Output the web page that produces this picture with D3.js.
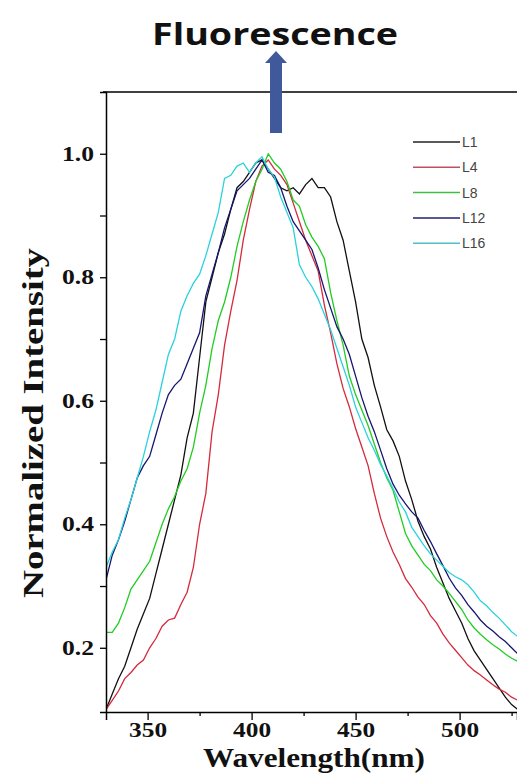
<!DOCTYPE html>
<meta charset="utf-8">
<style>
  body { margin: 0; background: #fff; }
  svg { display: block; }
</style>
<body>
<div id="chart"></div>
<script src="https://d3js.org/d3.v7.min.js"></script>
<script>

// wavelength grid (nm), 3 nm apart
var wavelengths = d3.range(330, 529, 3);

var seriesNames = ["L1", "L4", "L8", "L12", "L16"];
var seriesColors = ["#111111", "#d42a3c", "#22cc22", "#161670", "#2ad2dc"];
var legendColors = ["#222222", "#c05060", "#40c040", "#20206e", "#50c0c8"];

var L1 = [0.10, 0.125, 0.15, 0.17, 0.20, 0.23, 0.255, 0.28, 0.32, 0.36,
          0.40, 0.44, 0.48, 0.54, 0.58, 0.67, 0.76, 0.80, 0.84, 0.87,
          0.91, 0.945, 0.955, 0.97, 0.985, 0.99, 0.975, 0.96, 0.945, 0.94,
          0.945, 0.935, 0.95, 0.96, 0.945, 0.945, 0.93, 0.89, 0.86, 0.81,
          0.76, 0.70, 0.67, 0.625, 0.59, 0.553, 0.535, 0.51, 0.47, 0.44,
          0.405, 0.38, 0.36, 0.33, 0.305, 0.28, 0.26, 0.24, 0.215, 0.195,
          0.18, 0.165, 0.15, 0.135, 0.12, 0.108, 0.10];

var L4 = [0.10, 0.115, 0.13, 0.15, 0.16, 0.172, 0.18, 0.20, 0.215, 0.235,
          0.245, 0.248, 0.27, 0.29, 0.33, 0.40, 0.45, 0.55, 0.61, 0.69,
          0.745, 0.795, 0.86, 0.91, 0.955, 0.98, 0.99, 0.975, 0.965, 0.95,
          0.92, 0.89, 0.86, 0.835, 0.81, 0.755, 0.71, 0.66, 0.62, 0.59,
          0.555, 0.525, 0.495, 0.45, 0.41, 0.38, 0.355, 0.335, 0.312, 0.298,
          0.282, 0.27, 0.252, 0.24, 0.222, 0.208, 0.196, 0.184, 0.172, 0.163,
          0.156, 0.148, 0.14, 0.133, 0.128, 0.12, 0.115];

var L8 = [0.225, 0.225, 0.24, 0.265, 0.295, 0.31, 0.325, 0.34, 0.37, 0.40,
          0.425, 0.445, 0.47, 0.49, 0.525, 0.58, 0.625, 0.685, 0.73, 0.76,
          0.80, 0.85, 0.89, 0.925, 0.955, 0.975, 1.0, 0.985, 0.975, 0.955,
          0.925, 0.915, 0.885, 0.865, 0.85, 0.83, 0.775, 0.73, 0.69, 0.64,
          0.61, 0.585, 0.56, 0.53, 0.50, 0.475, 0.455, 0.42, 0.385, 0.365,
          0.35, 0.335, 0.325, 0.31, 0.30, 0.288, 0.275, 0.262, 0.245, 0.232,
          0.222, 0.213, 0.205, 0.198, 0.19, 0.183, 0.178];

var L12 = [0.31, 0.35, 0.375, 0.405, 0.44, 0.475, 0.495, 0.51, 0.545, 0.58,
           0.61, 0.625, 0.635, 0.66, 0.685, 0.71, 0.77, 0.805, 0.84, 0.88,
           0.91, 0.94, 0.95, 0.96, 0.975, 0.99, 0.97, 0.965, 0.945, 0.915,
           0.89, 0.875, 0.86, 0.845, 0.815, 0.78, 0.75, 0.72, 0.70, 0.675,
           0.64, 0.605, 0.575, 0.55, 0.52, 0.49, 0.465, 0.447, 0.433, 0.42,
           0.41, 0.39, 0.372, 0.352, 0.333, 0.313, 0.297, 0.285, 0.27, 0.258,
           0.245, 0.235, 0.227, 0.218, 0.21, 0.20, 0.19];

var L16 = [0.33, 0.355, 0.375, 0.41, 0.44, 0.475, 0.51, 0.55, 0.585, 0.63,
           0.675, 0.70, 0.745, 0.77, 0.79, 0.805, 0.835, 0.87, 0.905, 0.96,
           0.965, 0.98, 0.985, 0.97, 0.985, 0.995, 0.975, 0.962, 0.93, 0.905,
           0.88, 0.82, 0.80, 0.785, 0.765, 0.74, 0.715, 0.685, 0.655, 0.625,
           0.59, 0.565, 0.54, 0.52, 0.497, 0.478, 0.458, 0.436, 0.42, 0.395,
           0.38, 0.365, 0.352, 0.342, 0.332, 0.322, 0.315, 0.31, 0.302, 0.29,
           0.276, 0.268, 0.257, 0.248, 0.237, 0.226, 0.218];

var seriesValues = [L1, L4, L8, L12, L16];

var xMajorTicks = [350, 400, 450, 500];
var xMinorTicks = [375, 425, 475, 525];
var yTicks = [0.2, 0.3, 0.4, 0.5, 0.6, 0.7, 0.8, 0.9, 1.0];
var yLabeled = [0.2, 0.4, 0.6, 0.8, 1.0];

var W = 517, H = 776;
var plotLeft = 106, plotRight = 517, plotTop = 92, plotBottom = 712;

var svg = d3.select("#chart").append("svg")
  .attr("width", W)
  .attr("height", H);

var x = d3.scaleLinear().domain([330, 527.6]).range([plotLeft, plotRight]);
var y = d3.scaleLinear().domain([0.096, 1.1]).range([plotBottom, plotTop]);

svg.append("clipPath").attr("id", "plotclip")
  .append("rect")
  .attr("x", plotLeft).attr("y", plotTop)
  .attr("width", plotRight - plotLeft).attr("height", plotBottom - plotTop);

// curves
var line = d3.line()
  .x(function(d) { return x(d[0]); })
  .y(function(d) { return y(d[1]); });

var curves = svg.append("g").attr("clip-path", "url(#plotclip)");
seriesValues.forEach(function(vals, i) {
  curves.append("path")
    .datum(wavelengths.map(function(w, j) { return [w, vals[j]]; }))
    .attr("fill", "none")
    .attr("stroke", seriesColors[i])
    .attr("stroke-width", 1.3)
    .attr("d", line);
});

// x axis
var xAxis = svg.append("g")
  .attr("transform", "translate(0," + plotBottom + ")")
  .call(d3.axisBottom(x).tickValues(xMajorTicks).tickSize(8).tickPadding(3).tickFormat(d3.format("d")));
var xMinor = svg.append("g")
  .attr("transform", "translate(0," + plotBottom + ")")
  .call(d3.axisBottom(x).tickValues(xMinorTicks).tickSize(4).tickFormat(""));
xMinor.select(".domain").remove();
xMinor.selectAll(".tick text").remove();

// y axis
var yAxis = svg.append("g")
  .attr("transform", "translate(" + plotLeft + ",0)")
  .call(d3.axisLeft(y).tickValues(yTicks).tickSize(6).tickPadding(6)
    .tickFormat(function(d) { return yLabeled.some(function(v) { return Math.abs(v - d) < 1e-6; }) ? d3.format(".1f")(d) : ""; }));
yAxis.selectAll(".tick text").filter(function() { return this.textContent === ""; }).remove();

// top border
svg.append("line")
  .attr("x1", plotLeft - 3).attr("x2", plotRight)
  .attr("y1", plotTop).attr("y2", plotTop)
  .attr("stroke", "#000").attr("stroke-width", 1.5);

svg.selectAll(".domain").attr("stroke", "#000").attr("stroke-width", 1.5);
svg.selectAll(".tick line").attr("stroke", "#000").attr("stroke-width", 1.3);
svg.selectAll(".tick text")
  .attr("font-family", "'Liberation Serif', 'Times New Roman', serif")
  .attr("font-weight", "bold")
  .attr("font-size", 20)
  .attr("fill", "#111");
xAxis.selectAll(".tick text")
  .attr("textLength", 38).attr("lengthAdjust", "spacingAndGlyphs");
yAxis.selectAll(".tick text")
  .attr("textLength", 32).attr("lengthAdjust", "spacingAndGlyphs");

// axis titles
svg.append("text")
  .attr("x", 203).attr("y", 767)
  .attr("font-family", "'Liberation Serif', 'Times New Roman', serif")
  .attr("font-weight", "bold")
  .attr("font-size", 27)
  .attr("textLength", 222).attr("lengthAdjust", "spacingAndGlyphs")
  .attr("fill", "#111")
  .text("Wavelength(nm)");

svg.append("text")
  .attr("transform", "translate(43,598) rotate(-90)")
  .attr("font-family", "'Liberation Serif', 'Times New Roman', serif")
  .attr("font-weight", "bold")
  .attr("font-size", 30)
  .attr("textLength", 350).attr("lengthAdjust", "spacingAndGlyphs")
  .attr("fill", "#111")
  .text("Normalized Intensity");

// title and arrow
svg.append("text")
  .attr("x", 152).attr("y", 45)
  .attr("font-family", "'Open Sans', 'Noto Sans', sans-serif")
  .attr("font-weight", "bold")
  .attr("font-size", 30)
  .attr("textLength", 246).attr("lengthAdjust", "spacingAndGlyphs")
  .attr("fill", "#111")
  .text("Fluorescence");

var ax = 276;
svg.append("rect")
  .attr("x", ax - 6).attr("y", 62)
  .attr("width", 12).attr("height", 71)
  .attr("fill", "#40599a");
svg.append("path")
  .attr("d", "M" + (ax - 11) + ",63 L" + ax + ",51 L" + (ax + 11) + ",63 Z")
  .attr("fill", "#40599a");

// legend
var legend = svg.append("g");
seriesNames.forEach(function(name, i) {
  var ly = 142 + i * 25.3;
  legend.append("line")
    .attr("x1", 413).attr("x2", 460)
    .attr("y1", ly).attr("y2", ly)
    .attr("stroke", legendColors[i])
    .attr("stroke-width", 1.5);
  legend.append("text")
    .attr("x", 462).attr("y", ly + 5)
    .attr("font-family", "'Liberation Sans', Arial, sans-serif")
    .attr("font-size", 14)
    .attr("fill", "#444")
    .text(name);
});

</script>
</body>
